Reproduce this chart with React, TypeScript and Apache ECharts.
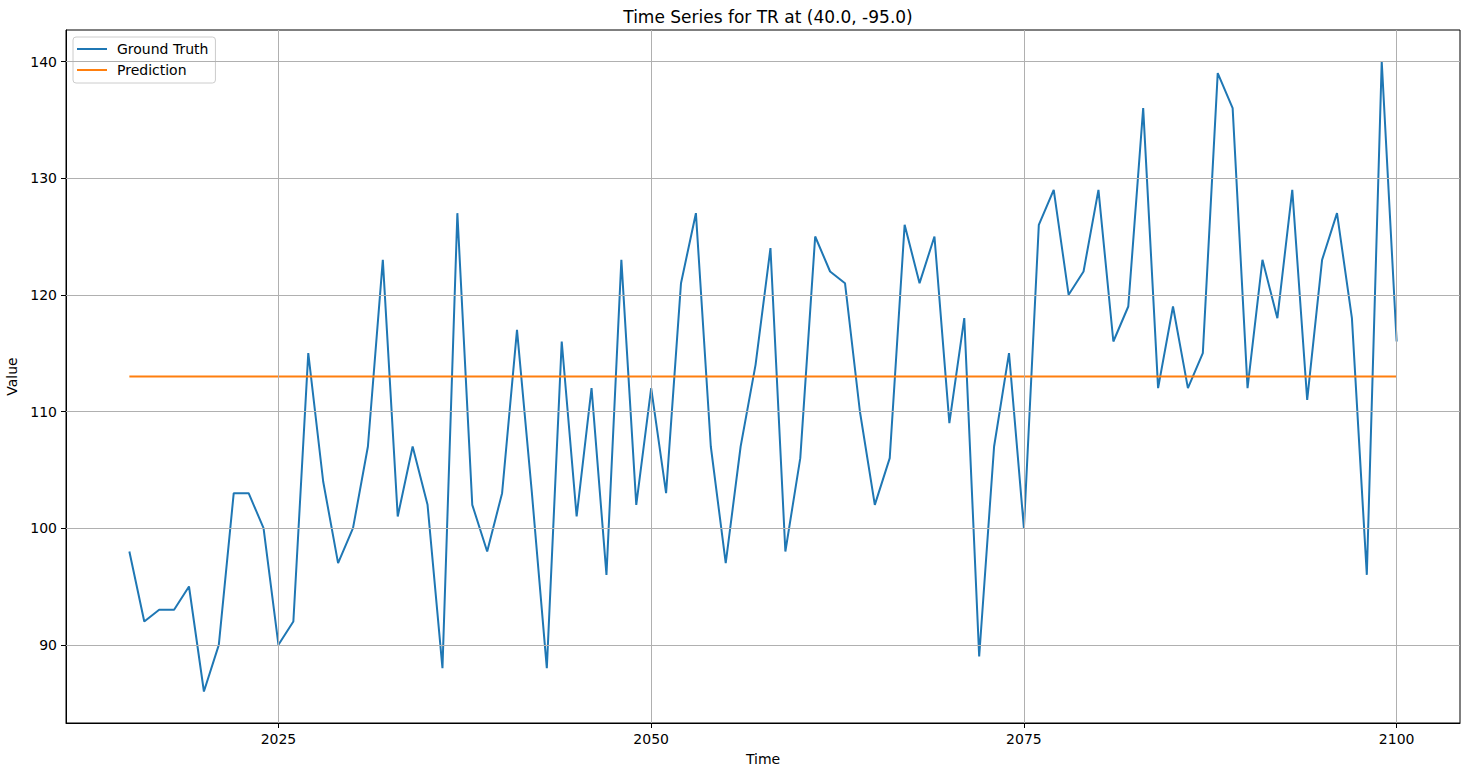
import React, { useEffect, useRef } from "react";
import * as echarts from "echarts";

const years = [
  2015, 2016, 2017, 2018, 2019, 2020, 2021, 2022, 2023, 2024,
  2025, 2026, 2027, 2028, 2029, 2030, 2031, 2032, 2033, 2034,
  2035, 2036, 2037, 2038, 2039, 2040, 2041, 2042, 2043, 2044,
  2045, 2046, 2047, 2048, 2049, 2050, 2051, 2052, 2053, 2054,
  2055, 2056, 2057, 2058, 2059, 2060, 2061, 2062, 2063, 2064,
  2065, 2066, 2067, 2068, 2069, 2070, 2071, 2072, 2073, 2074,
  2075, 2076, 2077, 2078, 2079, 2080, 2081, 2082, 2083, 2084,
  2085, 2086, 2087, 2088, 2089, 2090, 2091, 2092, 2093, 2094,
  2095, 2096, 2097, 2098, 2099, 2100,
];

const groundTruth = [
  98, 92, 93, 93, 95, 86, 90, 103, 103, 100,
  90, 92, 115, 104, 97, 100, 107, 123, 101, 107,
  102, 88, 127, 102, 98, 103, 117, 103, 88, 116,
  101, 112, 96, 123, 102, 112, 103, 121, 127, 107,
  97, 107, 114, 124, 98, 106, 125, 122, 121, 110,
  102, 106, 126, 121, 125, 109, 118, 89, 107, 115,
  100, 126, 129, 120, 122, 129, 116, 119, 136, 112,
  119, 112, 115, 139, 136, 112, 123, 118, 129, 111,
  123, 127, 118, 96, 140, 116,
];

const predictionLevel = 113;

const xTicks = [2025, 2050, 2075, 2100];
const yTicks = [90, 100, 110, 120, 130, 140];

const FONT = "DejaVu Sans";

export default function App() {
  const ref = useRef<HTMLDivElement>(null);
  useEffect(() => {
    if (!ref.current) return;
    const chart = echarts.init(ref.current, null, { renderer: "svg" });
    const gridStyle = { color: "#b0b0b0", width: 1, type: "solid" as const };
    chart.setOption({
      animation: false,
      backgroundColor: "#ffffff",
      textStyle: { fontFamily: FONT },
      title: {
        text: "Time Series for TR at (40.0, -95.0)",
        left: 763,
        top: 3,
        textAlign: "center",
        textStyle: { fontFamily: FONT, fontSize: 17, fontWeight: "normal", color: "#000" },
      },
      legend: {
        left: 73,
        top: 37,
        orient: "vertical",
        itemWidth: 30,
        itemHeight: 2,
        itemGap: 7,
        padding: [5, 7, 6, 4],
        backgroundColor: "rgba(255,255,255,0.8)",
        borderColor: "#cccccc",
        borderWidth: 1,
        borderRadius: 3,
        textStyle: { fontFamily: FONT, fontSize: 14, lineHeight: 14, color: "#000", padding: [0, 0, 0, 5] },
        data: [
          { name: "Ground Truth", icon: "rect", itemStyle: { color: "#1f77b4" } },
          { name: "Prediction", icon: "rect", itemStyle: { color: "#ff7f0e" } },
        ],
      },
      grid: {
        left: 66,
        right: 10,
        top: 30,
        bottom: 53,
        containLabel: false,
        outerBoundsMode: "none",
        show: true,
        borderColor: "#000",
        borderWidth: 1,
        backgroundColor: "transparent",
      },
      xAxis: {
        type: "value",
        min: 2010.75,
        max: 2104.25,
        name: "Time",
        nameLocation: "middle",
        nameGap: 29,
        nameTextStyle: { fontFamily: FONT, fontSize: 14, color: "#000" },
        axisLine: { show: true, onZero: false, lineStyle: { color: "#000", width: 1 } },
        axisTick: { show: true, length: 5, customValues: xTicks, lineStyle: { color: "#000" } },
        axisLabel: {
          customValues: xTicks,
          margin: 9,
          fontFamily: FONT,
          fontSize: 14,
          color: "#000",
          formatter: (v: number) => String(v),
        },
        splitLine: { show: false },
      },
      yAxis: {
        type: "value",
        min: 83.3,
        max: 142.7,
        name: "Value",
        nameLocation: "middle",
        nameGap: 40,
        nameRotate: 90,
        nameTextStyle: { fontFamily: FONT, fontSize: 14, color: "#000" },
        axisLine: { show: true, onZero: false, lineStyle: { color: "#000", width: 1 } },
        axisTick: { show: true, length: 5, customValues: yTicks, lineStyle: { color: "#000" } },
        axisLabel: {
          customValues: yTicks,
          margin: 9,
          fontFamily: FONT,
          fontSize: 14,
          color: "#000",
          formatter: (v: number) => String(v),
        },
        splitLine: { show: false },
      },
      series: [
        {
          name: "grid",
          type: "line",
          data: [],
          z: 1,
          silent: true,
          markLine: {
            silent: true,
            symbol: ["none", "none"],
            label: { show: false },
            lineStyle: gridStyle,
            emphasis: { disabled: true },
            data: [
              ...xTicks.map((v) => ({ xAxis: v })),
              ...yTicks.map((v) => ({ yAxis: v })),
            ],
          },
        },
        {
          name: "Ground Truth",
          type: "line",
          z: 3,
          symbol: "none",
          showSymbol: false,
          color: "#1f77b4",
          lineStyle: { color: "#1f77b4", width: 2 },
          data: years.map((y, i) => [y, groundTruth[i]]),
        },
        {
          name: "Prediction",
          type: "line",
          z: 4,
          symbol: "none",
          showSymbol: false,
          color: "#ff7f0e",
          lineStyle: { color: "#ff7f0e", width: 2 },
          data: years.map((y) => [y, predictionLevel]),
        },
      ],
    });
    return () => chart.dispose();
  }, []);
  return (
    <div
      ref={ref}
      style={{ position: "fixed", left: 0, top: 0, width: 1470, height: 776 }}
    />
  );
}
